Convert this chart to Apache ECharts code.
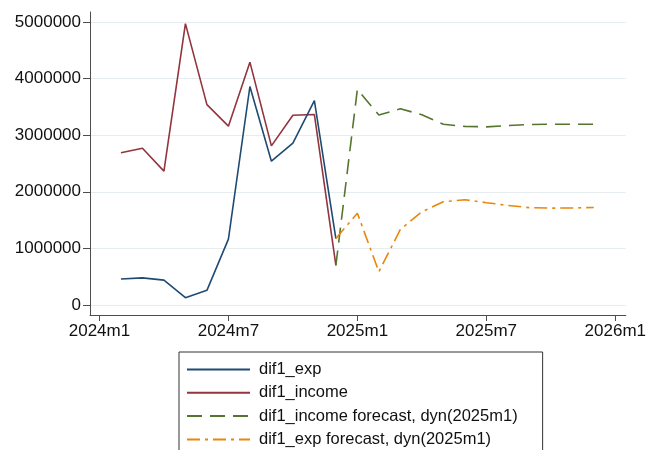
<!DOCTYPE html>
<html>
<head>
<meta charset="utf-8">
<script src="https://cdn.jsdelivr.net/npm/echarts@6/dist/echarts.min.js"></script>
<style>
html,body{margin:0;padding:0;background:#fff;}
#chart{width:649px;height:450px;}
</style>
</head>
<body>
<div id="chart"></div>
<script>
// ---- data ----
const actualMonths = ['2024m2','2024m3','2024m4','2024m5','2024m6','2024m7','2024m8','2024m9','2024m10','2024m11','2024m12'];
const dif1Exp = [460000, 480000, 440000, 130000, 260000, 1165000, 3860000, 2540000, 2860000, 3610000, 1175000];
const dif1Income = [2690000, 2770000, 2365000, 4970000, 3540000, 3160000, 4290000, 2812000, 3353000, 3365000, 700000];

const forecastMonths = ['2024m12','2025m1','2025m2','2025m3','2025m4','2025m5','2025m6','2025m7','2025m8','2025m9','2025m10','2025m11','2025m12'];
const incomeForecast = [700000, 3810000, 3355000, 3468000, 3360000, 3192000, 3156000, 3147000, 3170000, 3188000, 3194000, 3194000, 3194000];
const expForecast = [1175000, 1622000, 588000, 1335000, 1647000, 1823000, 1860000, 1808000, 1760000, 1720000, 1712000, 1714000, 1724000];

const xTickLabels = ['2024m1','2024m7','2025m1','2025m7','2026m1'];
const yTickValues = [0, 1000000, 2000000, 3000000, 4000000, 5000000];

const seriesNames = ['dif1_exp','dif1_income','dif1_income forecast, dyn(2025m1)','dif1_exp forecast, dyn(2025m1)'];

// ---- helpers ----
function monthIndex(s){ const p = s.split('m'); return (parseInt(p[0],10)-2024)*12 + parseInt(p[1],10)-1; }
function monthLabel(v){ const y = 2024 + Math.floor(v/12); const m = ((v%12)+12)%12 + 1; return y + 'm' + m; }
function pairs(months, vals){ return months.map((m,i)=>[monthIndex(m), vals[i]]); }

const xTicks = xTickLabels.map(monthIndex);
const FONT = '"Liberation Sans", Arial, Helvetica, sans-serif';
const axisColor = '#4d4d4d';

const chart = echarts.init(document.getElementById('chart'), null, {renderer:'canvas'});
chart.setOption({
  animation:false,
  backgroundColor:'#ffffff',
  textStyle:{fontFamily:FONT},
  grid:{left:90, right:19, top:12, bottom:135, containLabel:false},
  xAxis:{
    type:'value', min:-0.44, max:24.49,
    axisLine:{show:true, onZero:false, lineStyle:{color:axisColor, width:1}},
    axisTick:{show:true, customValues:xTicks, length:6, lineStyle:{color:axisColor, width:1}},
    axisLabel:{customValues:xTicks, formatter:(v)=>monthLabel(Math.round(v)), fontSize:17, color:'#111', margin:8, fontFamily:FONT},
    splitLine:{show:false}
  },
  yAxis:{
    type:'value', min:-176000, max:5176000,
    axisLine:{show:true, onZero:false, lineStyle:{color:axisColor, width:1}},
    axisTick:{show:true, customValues:yTickValues, length:7, lineStyle:{color:axisColor, width:1}},
    axisLabel:{customValues:yTickValues, formatter:(v)=>String(Math.round(v)), fontSize:17, color:'#111', margin:9, fontFamily:FONT},
    splitLine:{show:true, lineStyle:{color:'#e6edf1', width:1}}
  },
  legend:{
    type:'plain',
    orient:'vertical', left:179, top:352, height:120,
    data:seriesNames.map(n=>({name:n})),
    itemWidth:63, itemHeight:14, itemGap:6.3,
    padding:[9,25,14,7],
    borderColor:'#333', borderWidth:1,
    itemStyle:{opacity:0, borderWidth:0},
    textStyle:{fontSize:16.5, color:'#111', fontFamily:FONT, padding:[0,0,0,4]}
  },
  series:[
    {name:seriesNames[0], type:'line', data:pairs(actualMonths, dif1Exp), showSymbol:false, symbol:'none',
     lineStyle:{color:'#1f4a73', width:1.6}, itemStyle:{color:'#1f4a73'}, z:3},
    {name:seriesNames[1], type:'line', data:pairs(actualMonths, dif1Income), showSymbol:false, symbol:'none',
     lineStyle:{color:'#93353f', width:1.6}, itemStyle:{color:'#93353f'}, z:2},
    {name:seriesNames[2], type:'line', data:pairs(forecastMonths, incomeForecast), showSymbol:false, symbol:'none',
     lineStyle:{color:'#55752f', width:1.6, type:[15,8]}, itemStyle:{color:'#55752f'}, z:4},
    {name:seriesNames[3], type:'line', data:pairs(forecastMonths, expForecast), showSymbol:false, symbol:'none',
     lineStyle:{color:'#e8870e', width:1.6, type:[13,5,3,5]}, itemStyle:{color:'#e8870e'}, z:5}
  ]
});
</script>
</body>
</html>
